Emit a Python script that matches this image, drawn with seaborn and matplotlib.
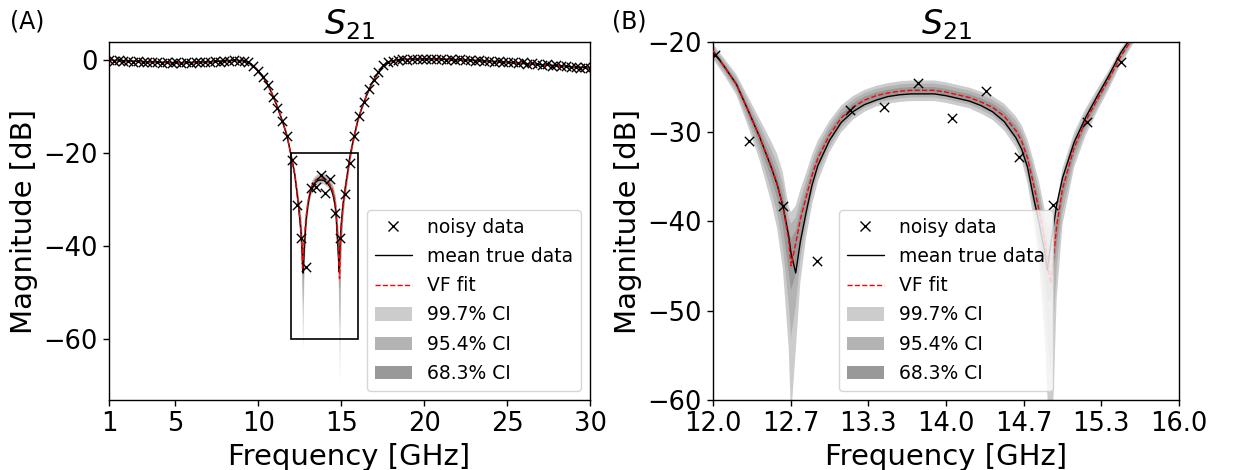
import numpy as np
import matplotlib
matplotlib.use("Agg")
import matplotlib.pyplot as plt
import seaborn as sns
from matplotlib.lines import Line2D
from matplotlib.patches import Patch, Rectangle

# ---------------- data ----------------
# noisy samples: 101 equally spaced frequencies from 1 to 30 GHz
freq_noisy = np.linspace(1.0, 30.0, 101)
noisy_db = [
    0.1, -0.1, 0.0, -0.2, -0.1, -0.3, -0.2, -0.4, -0.3, -0.5,
    -0.4, -0.6, -0.5, -0.7, -0.5, -0.6, -0.4, -0.6, -0.4, -0.5,
    -0.3, -0.4, -0.2, -0.3, -0.1, -0.2, 0.0, -0.1, -0.2, -0.5,
    -1.3, -2.3, -3.6, -5.3, -7.9, -10.2, -13.1, -16.3, -21.5, -31.1,
    -38.3, -44.5, -27.6, -27.3, -24.6, -28.5, -25.5, -32.8, -38.2, -28.9,
    -22.2, -16.3, -12.0, -9.0, -6.3, -4.3, -2.5, -1.1, -0.4, -0.1,
    0.1, 0.2, 0.1, 0.3, 0.2, 0.3, 0.2, 0.3, 0.2, 0.3,
    0.1, 0.2, 0.1, 0.2, 0.0, 0.1, -0.1, 0.0, -0.2, -0.1,
    -0.3, -0.2, -0.4, -0.3, -0.5, -0.6, -0.5, -0.8, -0.7, -0.9,
    -1.0, -0.9, -1.2, -1.1, -1.3, -1.2, -1.5, -1.4, -1.6, -1.5,
    -1.7,
]

f_curve = (
    [1, 2, 3, 4, 5, 6, 7, 8, 8.5, 9, 9.3, 9.6, 9.9, 10.2, 10.5, 10.8, 11.1, 11.4, 11.7, 11.85]
    + [12.0, 12.1, 12.2, 12.3, 12.4, 12.5, 12.55, 12.6, 12.65, 12.67, 12.71, 12.75, 12.8, 12.85, 12.9]
    + [13.0, 13.1, 13.2, 13.3, 13.4, 13.5, 13.6, 13.7, 13.8, 13.9, 14.0, 14.1, 14.2, 14.3, 14.4, 14.5,
       14.6, 14.65, 14.7, 14.75, 14.8, 14.85, 14.87, 14.9, 14.95]
    + [15.0, 15.1, 15.2, 15.3, 15.4, 15.5, 15.6, 15.7, 15.8, 16.0, 16.2, 16.5, 16.8, 17.1, 17.4, 17.7,
       18.0, 18.5, 19, 20, 21, 22, 23, 24, 25, 26, 27, 28, 29, 30]
)

true_db = (
    [0.0, -0.15, -0.3, -0.45, -0.55, -0.5, -0.35, -0.15, -0.05, -0.1, -0.35, -0.9, -1.9, -3.2, -4.8,
     -7.0, -9.6, -12.6, -15.9, -18.3]
    + [-21.0, -22.8, -24.7, -27.6, -30.6, -34.0, -35.9, -38.3, -41.7, -43.6, -45.8, -42.3, -39.0, -36.0, -33.8]
    + [-31.0, -29.0, -27.8, -27.0, -26.5, -26.1, -25.9, -25.8, -25.8, -25.8, -26.0, -26.3, -26.6, -27.1,
       -27.8, -28.9, -30.7, -32.0, -34.0, -37.3, -40.3, -43.6, -45.5, -42.5, -38.2]
    + [-35.2, -31.2, -28.4, -26.0, -23.7, -21.2, -19.3, -17.6, -16.0, -12.9, -10.7, -7.8, -5.3, -3.4, -1.8,
       -0.7, -0.2, 0.05, 0.2, 0.25, 0.2, 0.1, -0.05, -0.25, -0.45, -0.7, -0.95, -1.2, -1.45, -1.65]
)

fit_db = (
    [0.0, -0.15, -0.3, -0.45, -0.55, -0.5, -0.35, -0.15, -0.05, -0.1, -0.35, -0.9, -1.9, -3.2, -4.8,
     -7.0, -9.6, -12.6, -15.9, -18.3]
    + [-21.0, -22.8, -24.7, -27.6, -30.6, -33.9, -35.8, -38.4, -42.2, -45.0, -42.5, -39.8, -37.3, -34.9, -33.0]
    + [-30.4, -28.5, -27.3, -26.5, -26.0, -25.7, -25.5, -25.4, -25.4, -25.4, -25.6, -25.9, -26.2, -26.7,
       -27.3, -28.3, -29.9, -31.1, -33.0, -35.8, -38.9, -42.4, -44.4, -47.0, -40.6]
    + [-36.4, -31.8, -28.8, -26.4, -24.1, -21.6, -19.6, -17.8, -16.2, -13.0, -10.7, -7.8, -5.3, -3.4, -1.8,
       -0.7, -0.2, 0.05, 0.2, 0.25, 0.2, 0.1, -0.05, -0.25, -0.45, -0.7, -0.95, -1.2, -1.45, -1.65]
)

# confidence-band extents above / below the fit (dB)
ci997_up = (
    [0.15, 0.15, 0.15, 0.15, 0.15, 0.15, 0.15, 0.15, 0.15, 0.15, 0.17, 0.2, 0.23, 0.27, 0.32, 0.38, 0.45,
     0.52, 0.6, 0.7]
    + [0.8, 0.9, 1.1, 1.5, 2.0, 2.8, 3.3, 3.8, 3.8, 6.0, 4.2, 3.3, 2.7, 2.3, 2.0]
    + [1.6, 1.4, 1.25, 1.15, 1.1, 1.1, 1.1, 1.1, 1.1, 1.1, 1.1, 1.1, 1.1, 1.15, 1.25, 1.4, 1.6, 1.8,
       2.1, 2.6, 3.2, 3.5, 5.5, 8.0, 2.5]
    + [2.3, 1.7, 1.4, 1.2, 1.0, 0.85, 0.7, 0.6, 0.5, 0.4, 0.35, 0.3, 0.25, 0.2, 0.18, 0.16, 0.15, 0.15,
       0.15, 0.15, 0.15, 0.15, 0.15, 0.15, 0.15, 0.15, 0.15, 0.15, 0.15, 0.15]
)
ci997_dn = (
    [0.15, 0.15, 0.15, 0.15, 0.15, 0.15, 0.15, 0.15, 0.15, 0.15, 0.17, 0.2, 0.23, 0.27, 0.32, 0.38, 0.45,
     0.52, 0.6, 0.7]
    + [0.9, 1.0, 1.2, 1.8, 2.6, 4.0, 5.0, 7.0, 12.0, 17.0, 12.0, 7.0, 4.5, 3.3, 2.6]
    + [1.9, 1.6, 1.4, 1.3, 1.2, 1.2, 1.2, 1.2, 1.2, 1.2, 1.2, 1.2, 1.2, 1.3, 1.4, 1.6, 1.9, 2.2,
       2.8, 3.8, 6.0, 11.0, 15.0, 22.0, 8.0]
    + [4.0, 2.2, 1.6, 1.3, 1.1, 0.9, 0.75, 0.6, 0.5, 0.4, 0.35, 0.3, 0.25, 0.2, 0.18, 0.16, 0.15, 0.15,
       0.15, 0.15, 0.15, 0.15, 0.15, 0.15, 0.15, 0.15, 0.15, 0.15, 0.15, 0.15]
)
ci954_up = (
    [0.1, 0.1, 0.1, 0.1, 0.1, 0.1, 0.1, 0.1, 0.1, 0.1, 0.11, 0.13, 0.15, 0.18, 0.21, 0.25, 0.3, 0.35,
     0.4, 0.47]
    + [0.55, 0.6, 0.75, 1.0, 1.35, 1.9, 2.2, 2.6, 2.6, 4.7, 2.9, 2.2, 1.8, 1.5, 1.3]
    + [1.1, 0.95, 0.85, 0.8, 0.75, 0.75, 0.75, 0.75, 0.75, 0.75, 0.75, 0.75, 0.75, 0.8, 0.85, 0.95, 1.1,
       1.2, 1.4, 1.8, 2.2, 2.4, 3.8, 6.5, 1.9]
    + [1.6, 1.2, 0.95, 0.8, 0.7, 0.57, 0.47, 0.4, 0.33, 0.27, 0.23, 0.2, 0.17, 0.13, 0.12, 0.11, 0.1, 0.1,
       0.1, 0.1, 0.1, 0.1, 0.1, 0.1, 0.1, 0.1, 0.1, 0.1, 0.1, 0.1]
)
ci954_dn = (
    [0.1, 0.1, 0.1, 0.1, 0.1, 0.1, 0.1, 0.1, 0.1, 0.1, 0.11, 0.13, 0.15, 0.18, 0.21, 0.25, 0.3, 0.35,
     0.4, 0.47]
    + [0.6, 0.65, 0.8, 1.2, 1.7, 2.7, 3.3, 4.5, 7.0, 8.0, 7.0, 4.5, 3.0, 2.2, 1.7]
    + [1.3, 1.1, 0.95, 0.88, 0.8, 0.8, 0.8, 0.8, 0.8, 0.8, 0.8, 0.8, 0.8, 0.88, 0.95, 1.1, 1.3, 1.5,
       1.9, 2.6, 4.0, 7.0, 9.0, 10.0, 4.5]
    + [2.7, 1.5, 1.1, 0.9, 0.75, 0.6, 0.5, 0.4, 0.33, 0.27, 0.23, 0.2, 0.17, 0.13, 0.12, 0.11, 0.1, 0.1,
       0.1, 0.1, 0.1, 0.1, 0.1, 0.1, 0.1, 0.1, 0.1, 0.1, 0.1, 0.1]
)
ci683_up = (
    [0.05, 0.05, 0.05, 0.05, 0.05, 0.05, 0.05, 0.05, 0.05, 0.05, 0.06, 0.07, 0.08, 0.09, 0.11, 0.13,
     0.15, 0.17, 0.2, 0.23]
    + [0.27, 0.3, 0.37, 0.5, 0.7, 0.95, 1.1, 1.3, 1.3, 3.0, 1.4, 1.1, 0.9, 0.75, 0.65]
    + [0.55, 0.48, 0.42, 0.4, 0.37, 0.37, 0.37, 0.37, 0.37, 0.37, 0.37, 0.37, 0.37, 0.4, 0.42, 0.48,
       0.55, 0.6, 0.7, 0.9, 1.1, 1.2, 2.0, 4.0, 1.0]
    + [0.8, 0.6, 0.48, 0.4, 0.35, 0.28, 0.23, 0.2, 0.17, 0.13, 0.12, 0.1, 0.08, 0.07, 0.06, 0.05, 0.05,
       0.05, 0.05, 0.05, 0.05, 0.05, 0.05, 0.05, 0.05, 0.05, 0.05, 0.05, 0.05, 0.05]
)
ci683_dn = (
    [0.05, 0.05, 0.05, 0.05, 0.05, 0.05, 0.05, 0.05, 0.05, 0.05, 0.06, 0.07, 0.08, 0.09, 0.11, 0.13,
     0.15, 0.17, 0.2, 0.23]
    + [0.3, 0.33, 0.4, 0.6, 0.85, 1.3, 1.6, 2.2, 3.5, 2.7, 3.5, 2.2, 1.5, 1.1, 0.85]
    + [0.65, 0.55, 0.48, 0.44, 0.4, 0.4, 0.4, 0.4, 0.4, 0.4, 0.4, 0.4, 0.4, 0.44, 0.48, 0.55, 0.65,
       0.75, 0.95, 1.3, 2.0, 3.5, 4.5, 2.0, 2.2]
    + [1.3, 0.75, 0.55, 0.45, 0.37, 0.3, 0.25, 0.2, 0.17, 0.13, 0.12, 0.1, 0.08, 0.07, 0.06, 0.05, 0.05,
       0.05, 0.05, 0.05, 0.05, 0.05, 0.05, 0.05, 0.05, 0.05, 0.05, 0.05, 0.05, 0.05]
)

xticks_a = [1, 5, 10, 15, 20, 25, 30]
yticks_a = [0, -20, -40, -60]
xticks_b = [12.0, 12.667, 13.333, 14.0, 14.667, 15.333, 16.0]
xticklabels_b = ["12.0", "12.7", "13.3", "14.0", "14.7", "15.3", "16.0"]
yticks_b = [-20, -30, -40, -50, -60]
labels = ["noisy data", "mean true data", "VF fit", "99.7% CI", "95.4% CI", "68.3% CI"]
band_colors = ["#cccccc", "#b3b3b3", "#999999"]

# ---------------- plotting ----------------
sns.set_style("ticks", {"axes.edgecolor": "black", "xtick.color": "black", "ytick.color": "black",
                        "text.color": "black", "axes.labelcolor": "black"})
plt.rcParams["font.family"] = ["DejaVu Sans"]

fig = plt.figure(figsize=(12.33, 4.70), dpi=100)
ax_a = fig.add_axes([109 / 1233, 70 / 470, 481 / 1233, 358 / 470])
ax_b = fig.add_axes([713 / 1233, 70 / 470, 466 / 1233, 358 / 470])

fc = np.array(f_curve, dtype=float)
fit = np.array(fit_db)
bands = [(ci997_up, ci997_dn), (ci954_up, ci954_dn), (ci683_up, ci683_dn)]


def draw(ax):
    for (up, dn), col in zip(bands, band_colors):
        ax.fill_between(fc, fit - np.array(dn), fit + np.array(up), color=col, lw=0, zorder=1)
    sns.lineplot(x=fc, y=true_db, color="black", lw=1.0, ax=ax, estimator=None, sort=False, zorder=3)
    sns.lineplot(x=fc, y=fit_db, color="red", lw=1.0, linestyle="--", ax=ax, estimator=None,
                 sort=False, zorder=4)
    sns.scatterplot(x=freq_noisy, y=noisy_db, marker="x", color="black", s=45, linewidth=1.0,
                    ax=ax, zorder=5)


def legend_handles():
    return [
        Line2D([], [], color="black", marker="x", linestyle="none", markersize=7, markeredgewidth=1.0),
        Line2D([], [], color="black", lw=1.0),
        Line2D([], [], color="red", lw=1.0, linestyle="--"),
        Patch(facecolor=band_colors[0], edgecolor="none"),
        Patch(facecolor=band_colors[1], edgecolor="none"),
        Patch(facecolor=band_colors[2], edgecolor="none"),
    ]


for ax in (ax_a, ax_b):
    draw(ax)
    ax.set_title(r"$S_{21}$", fontsize=24, pad=5)
    ax.set_xlabel("Frequency [GHz]", fontsize=21)
    ax.set_ylabel("Magnitude [dB]", fontsize=21)
    ax.tick_params(labelsize=18.5, length=4.5, width=1, direction="out")
    for s in ax.spines.values():
        s.set_linewidth(1.0)
        s.set_color("black")

ax_a.set_xlim(1, 30)
ax_a.set_ylim(-73.1, 3.9)
ax_a.set_xticks(xticks_a)
ax_a.set_yticks(yticks_a)
ax_a.add_patch(Rectangle((12, -60), 4, 40, fill=False, edgecolor="black", lw=1.2, zorder=6))
ax_a.legend(legend_handles(), labels, loc="lower right", fontsize=13.5, labelspacing=0.55)

ax_b.set_xlim(12, 16)
ax_b.set_ylim(-60, -20)
ax_b.set_xticks(xticks_b)
ax_b.set_xticklabels(xticklabels_b)
ax_b.set_yticks(yticks_b)
ax_b.legend(legend_handles(), labels, loc="lower center", fontsize=13.5, labelspacing=0.55)

fig.text(10 / 1233, 1 - 9 / 470, "(A)", fontsize=17, va="top", ha="left")
fig.text(612 / 1233, 1 - 9 / 470, "(B)", fontsize=17, va="top", ha="left")

fig.savefig("out.png", dpi=100)
